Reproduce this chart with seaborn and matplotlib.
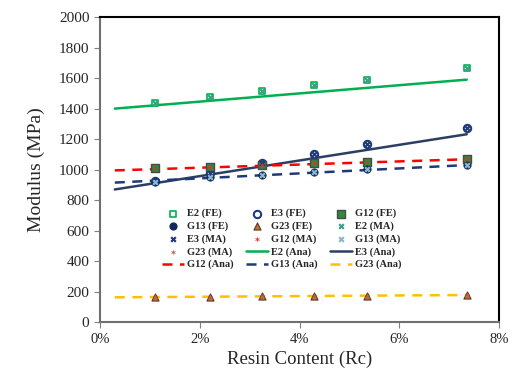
import pandas as pd
import matplotlib
matplotlib.use("Agg")
import matplotlib.pyplot as plt
import seaborn as sns
from matplotlib.ticker import FuncFormatter, MultipleLocator

# --- Datos ---
resin_pct = [1.1, 2.2, 3.25, 4.3, 5.35, 7.35]

e2_vals = [1440, 1475, 1515, 1552, 1590, 1665]
e3_vals = [925, 975, 1043, 1100, 1165, 1275]
g12_vals = [1008, 1017, 1032, 1043, 1050, 1072]
g13_vals = [922, 952, 965, 983, 1003, 1030]
g23_vals = [164, 167, 170, 171, 174, 179]

# lineas analiticas (inicio, fin)
ana_x = [0.3, 7.35]
e2_ana = [1400, 1590]
e3_ana = [870, 1232]
g12_ana = [995, 1068]
g13_ana = [915, 1030]
g23_ana = [163, 178]

serif = ["Liberation Serif", "DejaVu Serif"]

sns.set_style("white")
plt.rcParams["font.family"] = serif

fig = plt.figure(figsize=(5.12, 3.72), dpi=100)
ax = fig.add_axes([0.195, 0.134, 0.780, 0.820])

# series FE
fe = [
    ("E2 (FE)", e2_vals, dict(marker="s", facecolor="white", edgecolor="#00b050", s=22, linewidth=1.2)),
    ("E3 (FE)", e3_vals, dict(marker="o", facecolor="white", edgecolor="#1f3a78", s=28, linewidth=1.5)),
    ("G12 (FE)", g12_vals, dict(marker="s", facecolor="#2e8b3a", edgecolor="#4a4a4a", s=26, linewidth=1.0)),
    ("G13 (FE)", g13_vals, dict(marker="o", facecolor="#0f2a5c", edgecolor="#0f2a5c", s=24, linewidth=1.0)),
    ("G23 (FE)", g23_vals, dict(marker="^", facecolor="#c0703a", edgecolor="#5a3a20", s=26, linewidth=0.8)),
]
ma = [
    ("E2 (MA)", e2_vals, dict(marker="X", color="#3aa08a", s=20, linewidth=0)),
    ("E3 (MA)", e3_vals, dict(marker="X", color="#1f3a78", s=20, linewidth=0)),
    ("G12 (MA)", g12_vals, dict(marker="$\u2736$", color="#e03030", s=22, linewidth=0)),
    ("G13 (MA)", g13_vals, dict(marker="X", color="#8ab8c8", s=20, linewidth=0)),
    ("G23 (MA)", g23_vals, dict(marker="$\u2736$", color="#c06050", s=22, linewidth=0)),
]

for name, vals, kw in fe + ma:
    sns.scatterplot(x=resin_pct, y=vals, ax=ax, label=name, zorder=4, **kw)

ana = [
    ("E2 (Ana)", e2_ana, "#00b050", "-"),
    ("E3 (Ana)", e3_ana, "#2c3e64", "-"),
    ("G12 (Ana)", g12_ana, "#ff0000", (0, (4, 3))),
    ("G13 (Ana)", g13_ana, "#1f3a78", (0, (4, 3))),
    ("G23 (Ana)", g23_ana, "#ffc000", (0, (4, 3))),
]
for name, vals, col, ls in ana:
    sns.lineplot(x=ana_x, y=vals, ax=ax, color=col, linestyle=ls, linewidth=1.8,
                 label=name, zorder=3)

ax.set_xlim(0, 8)
ax.set_ylim(0, 2000)
ax.xaxis.set_major_locator(MultipleLocator(2))
ax.yaxis.set_major_locator(MultipleLocator(200))
ax.xaxis.set_major_formatter(FuncFormatter(lambda v, p: f"{v:.0f}%"))
ax.tick_params(axis="both", direction="out", length=4, color="#808080",
               labelsize=11, bottom=True, left=True)
ax.tick_params(axis="x", labelsize=10.5)
for lab in ax.get_xticklabels() + ax.get_yticklabels():
    lab.set_family(serif)

ax.spines["left"].set_color("#707070")
ax.spines["bottom"].set_color("#707070")
ax.spines["top"].set_color("black")
ax.spines["right"].set_color("black")
for s in ax.spines.values():
    s.set_linewidth(1.5)

ax.set_xlabel("Resin Content (Rc)", fontsize=13.5, labelpad=4)
ax.set_ylabel("Modulus (MPa)", fontsize=14, labelpad=10)

# leyenda en orden por filas
h, l = ax.get_legend_handles_labels()
order = [r * 3 + c for c in range(3) for r in range(5)]
leg = ax.legend([h[i] for i in order], [l[i] for i in order], ncol=3,
                loc="upper left", bbox_to_anchor=(0.145, 0.385), frameon=False,
                prop={"family": serif, "weight": "bold", "size": 7.5},
                handlelength=2.1, columnspacing=1.2, labelspacing=0.3,
                handletextpad=0.3, borderaxespad=0)

fig.savefig("out.png", dpi=100)
